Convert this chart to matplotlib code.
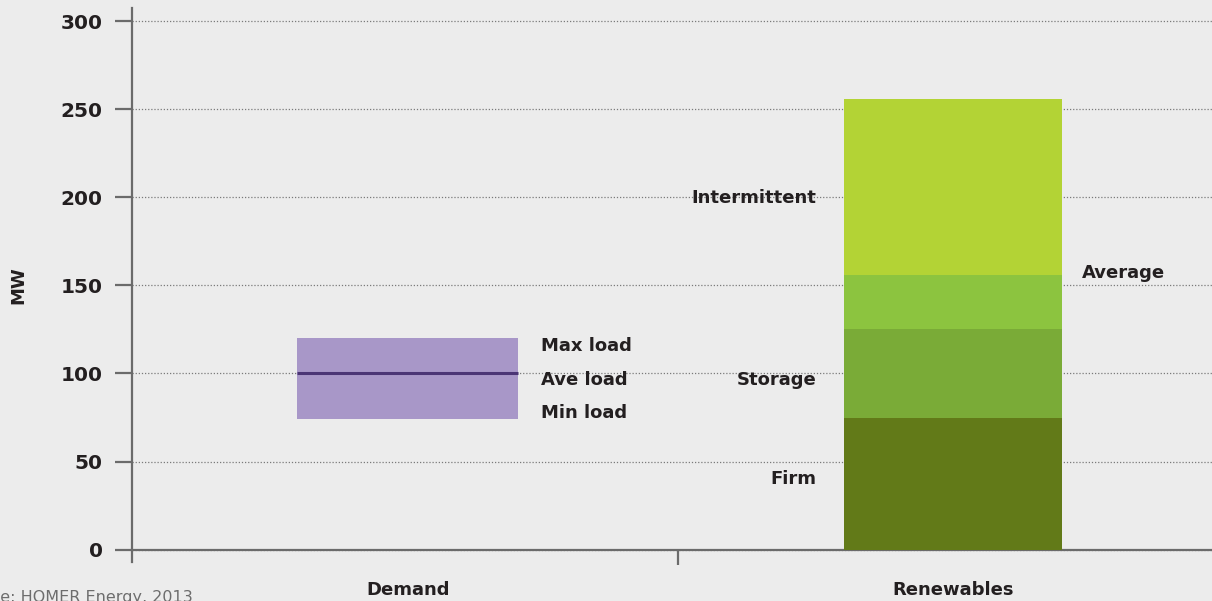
import matplotlib
matplotlib.use("Agg")
import matplotlib.pyplot as plt

plt.rcParams['font.family'] = ['DejaVu Sans']

categories = ["Demand", "Renewables"]
demand_min, demand_ave, demand_max = 74, 100, 120
renew_segments = ["Firm", "Storage", "Average", "Intermittent"]
renew_values = [75, 50, 31, 100]   # stacked heights
renew_colors = ["#627a18", "#7aab37", "#8cc43f", "#b3d335"]
yticks = [0, 50, 100, 150, 200, 250, 300]

W, H = 1212, 601
fig = plt.figure(figsize=(W / 100, H / 100), dpi=100)
bg = "#ececec"
fig.patch.set_facecolor(bg)

ax = fig.add_axes([132 / W, (H - 562) / H, (1212 - 132) / W, (562 - 8) / H])
ax.set_facecolor(bg)
ax.set_xlim(-0.506, 1.475)
ax.set_ylim(-7, 307.4)

txt = "#231f20"
axc = "#6b6b6b"

# grid
ax.set_yticks(yticks)
ax.yaxis.grid(True, linestyle=(0, (1, 1.5)), color="#7a7a7a", linewidth=0.9)
ax.set_axisbelow(True)

# demand bar
bw = 0.405
ax.bar(0, demand_max - demand_min, bottom=demand_min, width=bw, color="#a897c8", zorder=3)
ax.hlines(demand_ave, -bw / 2, bw / 2, color="#4b3575", linewidth=2.2, zorder=4)

# renewables stacked bar
bottom = 0
for v, c in zip(renew_values, renew_colors):
    ax.bar(1, v, bottom=bottom, width=bw - 0.006, color=c, zorder=3)
    bottom += v

# spines
for s in ["top", "right"]:
    ax.spines[s].set_visible(False)
ax.spines["bottom"].set_position(("data", 0))
ax.spines["left"].set_color(axc)
ax.spines["bottom"].set_color(axc)
ax.spines["left"].set_linewidth(1.6)
ax.spines["bottom"].set_linewidth(1.6)
ax.spines["left"].set_zorder(5)

ax.tick_params(axis="y", direction="out", length=12, width=1.6, color=axc,
               labelsize=14.5, labelcolor=txt, pad=9)
for lab in ax.get_yticklabels():
    lab.set_fontweight("bold")
ax.set_xticks([0.496])
ax.set_xticklabels([""])
ax.tick_params(axis="x", direction="out", length=11, width=1.6, color=axc)

fs = 13
kw = dict(fontsize=fs, fontweight="bold", color=txt, clip_on=False)
ax.text(0.244, 115.7, "Max load", ha="left", va="center", **kw)
ax.text(0.244, 96.4, "Ave load", ha="left", va="center", **kw)
ax.text(0.244, 77.7, "Min load", ha="left", va="center", **kw)
ax.text(0.749, 199.7, "Intermittent", ha="right", va="center", **kw)
ax.text(0.749, 96.4, "Storage", ha="right", va="center", **kw)
ax.text(0.749, 40.3, "Firm", ha="right", va="center", **kw)
ax.text(1.237, 157, "Average", ha="left", va="center", **kw)

ax.text(0.0, -22.7, categories[0], ha="center", va="center", **kw)
ax.text(1.0, -22.7, categories[1], ha="center", va="center", **kw)

fig.text(18 / W, 1 - 285 / H, "MW", rotation=90, ha="center", va="center",
         fontsize=fs, fontweight="bold", color=txt)
fig.text(193 / W, 1 - 590 / H, "Source: HOMER Energy, 2013", ha="right", va="top",
         fontsize=11.5, color="#6d6d6d")

fig.savefig("out.png", dpi=100, facecolor=bg)
